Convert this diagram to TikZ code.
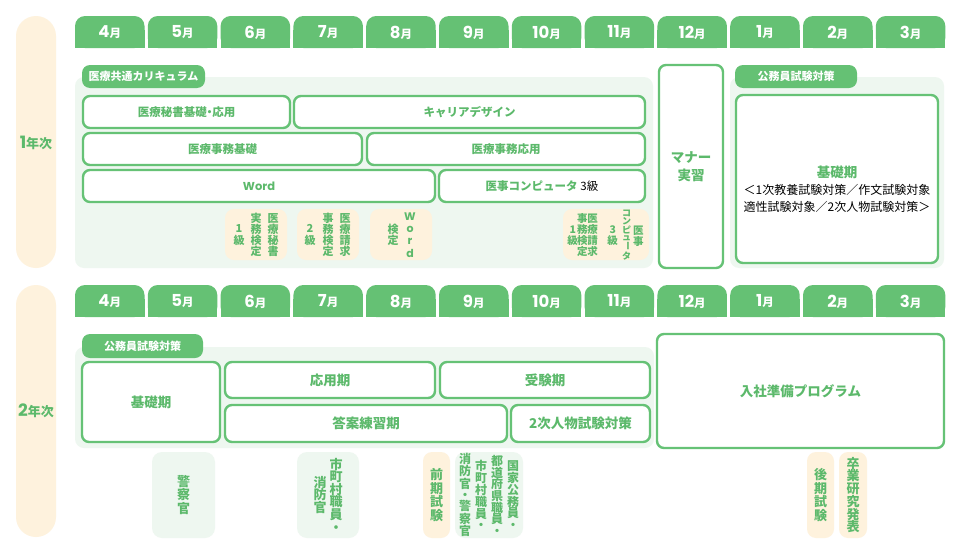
\documentclass[tikz,border=0pt]{standalone}
\usepackage{fontspec}
\usepackage{graphicx}
\setmainfont{Noto Sans CJK JP}
\newfontfamily\popf{Poppins}
\definecolor{tabg}{HTML}{65C174}
\definecolor{txtg}{HTML}{5CB96B}
\definecolor{bord}{HTML}{66C276}
\definecolor{lightg}{HTML}{EEF7F0}
\definecolor{peach}{HTML}{FEF2DD}
\newcommand\mon[1]{{\popf\bfseries\fontsize{16.5}{16.5}\selectfont #1}{\bfseries\fontsize{11.5}{11.5}\selectfont 月}}
\newcommand\vbarj{\rotatebox[origin=c]{-90}{ー}}
\newcommand\bxn[7]{%
  \pgfmathsetmacro\bxw{#5-#3}\pgfmathsetmacro\bxh{#6-#4}%
  \node[#2, minimum width=\bxw pt, minimum height=\bxh pt] (#1) at ({(#3+#5)/2},{(#4+#6)/2}) {#7};}
\newcommand\tabn[4]{%
  \fill[tabg, rounded corners=10pt] (#2,#3) rectangle ++(69.5,32);
  \fill[tabg] (#2,#3+14) rectangle ++(69.5,18);
  \node[tabtxt] (#1) at (#2+34.75,#3+16.5) {#4};}
\tikzset{
  tabtxt/.style={text=white, inner sep=0pt},
  wbox/.style={draw=bord, line width=2.4pt, fill=white, rounded corners=7pt, text=txtg, font=\bfseries\fontsize{11.5}{13}\selectfont, inner sep=0pt},
  wbig/.style={wbox, font=\bfseries\fontsize{13.5}{15}\selectfont},
  panel/.style={fill=lightg, rounded corners=9pt, inner sep=0pt},
  tagbox/.style={fill=tabg, rounded corners=8pt, text=white, font=\bfseries\fontsize{11}{12}\selectfont, inner sep=0pt},
  pbox/.style={fill=peach, rounded corners=9pt, inner sep=0pt},
  gbox/.style={fill=lightg, rounded corners=10pt, inner sep=0pt},
  pill/.style={fill=peach, rounded corners=20pt, inner sep=0pt},
  vcol/.style={text=txtg, align=center, inner sep=0pt, font=\bfseries\fontsize{11}{11.2}\selectfont},
  vnar/.style={vcol, font=\bfseries\fontsize{10.5}{11}\selectfont},
  vbig/.style={vcol, font=\bfseries\fontsize{13}{13.3}\selectfont},
  vsm/.style={vcol, font=\bfseries\fontsize{12}{11.3}\selectfont},
  blk/.style={text=black, inner sep=0pt, font=\fontsize{12}{13}\selectfont},
  yearlbl/.style={text=txtg, inner sep=0pt},
}
\begin{document}
\begin{tikzpicture}[x=1pt,y=-1pt]
\fill[white] (0,0) rectangle (961,554);
\useasboundingbox (0,0) rectangle (961,554);

% ---------- year 1 ----------
\bxn{py1}{pill}{16}{16}{56}{268}{}
\node[yearlbl] (y1) at (36,143) {{\popf\bfseries\fontsize{17}{17}\selectfont 1}{\bfseries\fontsize{13}{13}\selectfont 年次}};
\foreach \m [count=\i from 0] in {4,5,6,7,8,9,10,11,12,1,2,3} {
  \tabn{ta-\i}{75+72.8*\i}{16}{\mon{\m}}
}
\bxn{pA}{panel}{75}{77}{653}{268}{}
\bxn{tA}{tagbox}{82}{65}{205}{88}{医療共通カリキュラム}
\bxn{b1}{wbox}{83}{96}{290}{128}{医療秘書基礎\kern-3pt・\kern-3pt 応用}
\bxn{b2}{wbox}{294}{96}{645}{128}{キャリアデザイン}
\bxn{b3}{wbox}{83}{133}{362}{165}{医療事務基礎}
\bxn{b4}{wbox}{367}{133}{645}{165}{医療事務応用}
\bxn{b5}{wbox}{83}{170}{435}{202}{{\popf\bfseries Word}}
\bxn{b6}{wbox}{439}{170}{645}{202}{医事コンピュータ {\color{black}\mdseries 3級}}

\bxn{p1}{pbox}{225}{209}{287}{260}{}
\node[vcol] (p1a) at (273,235) {医\\療\\秘\\書};
\node[vcol] (p1b) at (256,235) {実\\務\\検\\定};
\node[vcol] (p1c) at (239,235) {1\\級};
\bxn{p2}{pbox}{297}{209}{359}{260}{}
\node[vcol] (p2a) at (345,235) {医\\療\\請\\求};
\node[vcol] (p2b) at (328,235) {事\\務\\検\\定};
\node[vcol] (p2c) at (310,235) {2\\級};
\bxn{p3}{pbox}{370}{209}{432}{260}{}
\node[vcol, font=\popf\bfseries\fontsize{11}{12.3}\selectfont] (p3a) at (410,235) {W\\o\\r\\d};
\node[vcol] (p3b) at (393,235) {検\\定};
\bxn{p4}{pbox}{563}{209}{649}{260}{}
\node[vnar] (p4a) at (638.3,236) {医\\事};
\node[vcol, font=\bfseries\fontsize{9}{7.8}\selectfont] (p4b) at (626.7,235) {コ\\ン\\ピ\\ュ\\\vbarj\\タ};
\node[vnar] (p4c) at (612.7,236) {3\\級};
\node[vnar] (p4d) at (592.7,235) {医\\療\\請\\求};
\node[vnar] (p4e) at (582.3,235) {事\\務\\検\\定};
\node[vnar] (p4f) at (572.7,236) {1\\級};

\bxn{mn}{wbox, align=center, font=\bfseries\fontsize{13.5}{18}\selectfont}{659}{65}{723}{268}{マナー\\実習}

\bxn{pB}{panel}{730}{77}{944}{268}{}
\bxn{tB}{tagbox}{735}{65}{857}{88}{公務員試験対策}
\bxn{kb}{wbox}{736}{95}{938}{263}{}
\node[text=txtg, inner sep=0pt, font=\bfseries\fontsize{13.5}{15}\selectfont] (k1) at (837,172) {基礎期};
\node[blk] (k2) at (837,190) {＜1次教養試験対策／作文試験対象};
\node[blk] (k3) at (837,207) {適性試験対象／2次人物試験対策＞};

% ---------- year 2 ----------
\bxn{py2}{pill}{16}{285}{56}{537}{}
\node[yearlbl] (y2) at (36,411) {{\popf\bfseries\fontsize{17}{17}\selectfont 2}{\bfseries\fontsize{13}{13}\selectfont 年次}};
\foreach \m [count=\i from 0] in {4,5,6,7,8,9,10,11,12,1,2,3} {
  \tabn{tb-\i}{75+72.8*\i}{285}{\mon{\m}}
}
\bxn{pC}{panel}{75}{347}{654}{448}{}
\bxn{tC}{tagbox}{82}{334}{203}{358}{公務員試験対策}
\bxn{c1}{wbig}{82}{362}{220}{442}{基礎期}
\bxn{c2}{wbig}{225}{362}{435}{398}{応用期}
\bxn{c3}{wbig}{440}{362}{650}{398}{受験期}
\bxn{c4}{wbig}{225}{405}{507}{442}{答案練習期}
\bxn{c5}{wbig}{511}{405}{650}{442}{2次人物試験対策}
\bxn{c6}{wbig}{657}{334}{944}{448}{入社準備プログラム}

\bxn{g1}{gbox}{152}{452}{215}{538}{}
\node[vbig] (g1a) at (183.5,495) {警\\察\\官};
\bxn{g2}{gbox}{297}{452}{359}{538}{}
\node[vbig, font=\bfseries\fontsize{13}{12.6}\selectfont] (g2a) at (336,495) {市\\町\\村\\職\\員\\・};
\node[vbig, font=\bfseries\fontsize{13}{12.6}\selectfont] (g2b) at (320,495) {消\\防\\官};
\bxn{o1}{pbox}{423}{452}{450}{538}{}
\node[vbig, font=\bfseries\fontsize{13}{13.7}\selectfont] (o1a) at (436.5,495) {前\\期\\試\\験};
\bxn{g3}{gbox}{455}{452}{523}{538}{}
\node[vsm] (g3a) at (513,495) {国\\家\\公\\務\\員\\・};
\node[vsm] (g3b) at (497,495) {都\\道\\府\\県\\職\\員\\・};
\node[vsm] (g3c) at (481,495) {市\\町\\村\\職\\員\\・};
\node[vsm] (g3d) at (465,495) {消\\防\\官\\・\\警\\察\\官};
\bxn{o2}{pbox}{807}{452}{834}{538}{}
\node[vbig, font=\bfseries\fontsize{13}{13.7}\selectfont] (o2a) at (820.5,495) {後\\期\\試\\験};
\bxn{o3}{pbox}{839}{452}{867}{538}{}
\node[vbig, font=\bfseries\fontsize{13}{12.7}\selectfont] (o3a) at (853,495) {卒\\業\\研\\究\\発\\表};
\end{tikzpicture}
\end{document}
